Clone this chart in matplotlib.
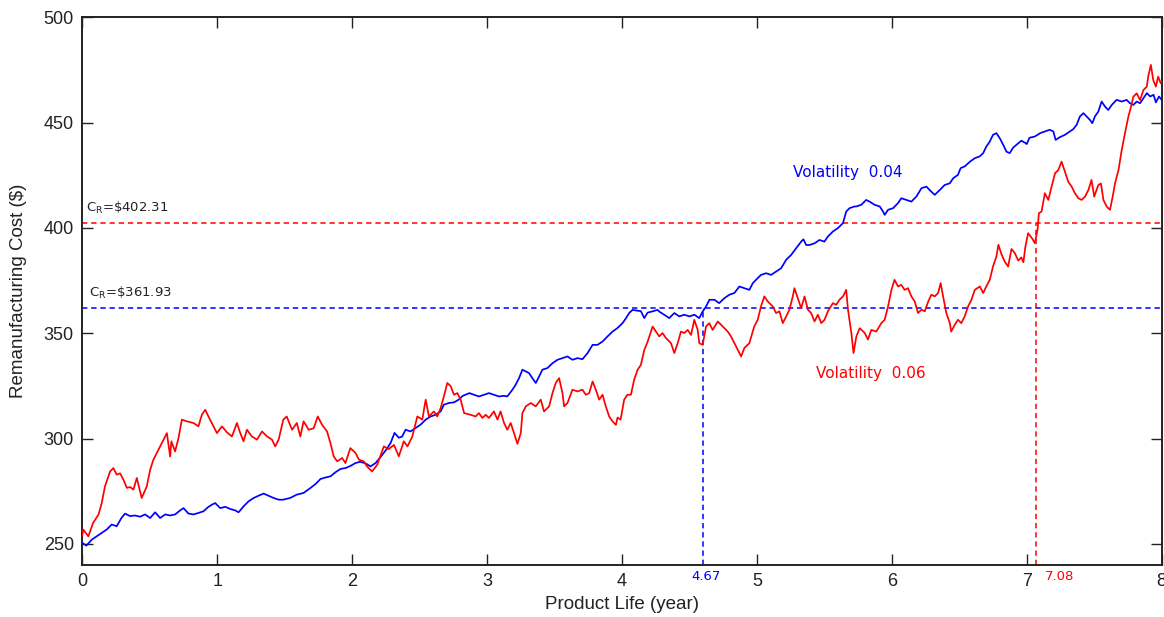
import matplotlib
matplotlib.use("Agg")
import matplotlib.pyplot as plt

# ---------------- data ----------------
red_x = [0.0, 0.007, 0.045, 0.08, 0.12, 0.144, 0.168, 0.206, 0.23, 0.255, 0.28, 0.305, 0.33, 0.354,
         0.379, 0.404, 0.428, 0.44, 0.478, 0.503, 0.527, 0.564, 0.589, 0.627, 0.651, 0.66, 0.688,
         0.713, 0.738, 0.775, 0.824, 0.861, 0.886, 0.911, 0.935, 0.96, 0.998, 1.035, 1.072, 1.109,
         1.146, 1.171, 1.195, 1.22, 1.257, 1.295, 1.332, 1.37, 1.406, 1.43, 1.455, 1.49, 1.515,
         1.555, 1.59, 1.616, 1.64, 1.678, 1.715, 1.745, 1.777, 1.814, 1.839, 1.863, 1.889, 1.926,
         1.95, 1.987, 2.025, 2.05, 2.086, 2.11, 2.148, 2.186, 2.235, 2.27, 2.31, 2.346, 2.383, 2.41,
         2.446, 2.483, 2.52, 2.545, 2.569, 2.606, 2.631, 2.656, 2.68, 2.705, 2.73, 2.755, 2.78,
         2.804, 2.83, 2.878, 2.915, 2.94, 2.965, 2.99, 3.014, 3.051, 3.077, 3.1, 3.126, 3.15, 3.175,
         3.2, 3.225, 3.25, 3.262, 3.287, 3.324, 3.361, 3.398, 3.422, 3.46, 3.485, 3.509, 3.534,
         3.559, 3.571, 3.596, 3.633, 3.67, 3.707, 3.732, 3.757, 3.782, 3.806, 3.831, 3.856, 3.88,
         3.905, 3.93, 3.955, 3.967, 3.99, 4.016, 4.04, 4.066, 4.09, 4.116, 4.14, 4.165, 4.19, 4.227,
         4.252, 4.276, 4.3, 4.326, 4.363, 4.388, 4.413, 4.437, 4.462, 4.487, 4.512, 4.536, 4.561,
         4.573, 4.598, 4.623, 4.647, 4.672, 4.71, 4.747, 4.784, 4.808, 4.833, 4.87, 4.883, 4.907,
         4.944, 4.98, 5.006, 5.03, 5.055, 5.08, 5.118, 5.142, 5.167, 5.192, 5.217, 5.241, 5.266,
         5.278, 5.303, 5.328, 5.353, 5.378, 5.402, 5.427, 5.452, 5.477, 5.501, 5.526, 5.563, 5.588,
         5.613, 5.638, 5.662, 5.675, 5.7, 5.716, 5.737, 5.762, 5.8, 5.823, 5.848, 5.885, 5.922,
         5.947, 5.972, 5.997, 6.02, 6.046, 6.07, 6.095, 6.12, 6.145, 6.17, 6.194, 6.22, 6.244, 6.27,
         6.293, 6.318, 6.343, 6.362, 6.38, 6.404, 6.43, 6.44, 6.466, 6.49, 6.515, 6.54, 6.565, 6.59,
         6.615, 6.652, 6.677, 6.7, 6.726, 6.75, 6.775, 6.79, 6.812, 6.837, 6.862, 6.887, 6.912,
         6.937, 6.96, 6.975, 6.99, 7.01, 7.04, 7.06, 7.08, 7.09, 7.11, 7.134, 7.16, 7.184, 7.21,
         7.234, 7.258, 7.283, 7.308, 7.333, 7.357, 7.382, 7.407, 7.432, 7.457, 7.48, 7.5, 7.53,
         7.55, 7.568, 7.593, 7.617, 7.637, 7.654, 7.68, 7.704, 7.728, 7.753, 7.773, 7.79, 7.815,
         7.84, 7.865, 7.89, 7.9, 7.92, 7.937, 7.957, 7.974, 7.993, 8.0]
red_y = [254, 256.8, 253.6, 260, 263.9, 269.4, 277.3, 284.4, 286, 282.9, 283.5, 280.5, 276.6, 277,
         275.8, 281.3, 275, 271.8, 277.3, 285.2, 290, 294.7, 297.9, 302.6, 291.5, 298.7, 293.9,
         300.3, 309, 308.2, 307.4, 305.8, 311.3, 313.7, 310.5, 307.4, 302.6, 305.8, 303, 301,
         307.4, 302.6, 298.7, 304.2, 301, 299.5, 303.4, 301, 299.5, 296.3, 299.5, 309, 310.5,
         304.2, 307.4, 301, 308.2, 304.2, 304.9, 310.5, 306.6, 303.4, 297.9, 291.6, 289.2, 290.8,
         288.4, 295.5, 293.2, 290, 289.2, 286.8, 284.4, 287.6, 296.3, 295, 297, 291.6, 298.7, 296.3,
         301, 310.5, 309, 318.5, 310.5, 312.9, 310.5, 314.5, 320, 326.4, 324.9, 320.8, 321.6,
         318.5, 312.1, 311.3, 310.5, 312.1, 309.8, 311.3, 309.8, 312.9, 309, 312.9, 307.4, 304.2, 307.4,
         302.6, 297.5, 302.6, 312.1, 315.3, 316.9, 315.3, 318.5, 312.9, 315.3, 321.6, 326.4, 328.7,
         321.6, 315.3, 316.9, 323.2, 322.4, 323.2, 320.8, 321.6, 327.1, 323.2, 318.5, 320.8, 315.3,
         310.5, 308.2, 306.5, 310, 309, 318.5, 320.8, 320.8, 327.9, 332.7, 335, 342, 346, 353.2,
         350.8, 348.5, 350.1, 347.7, 345.3, 340.6, 345.3, 350.8, 350.1, 351.6, 349.2, 356.4, 351.6,
         345.3, 344.5, 353.2, 354.8, 351.6, 355.6, 353.2, 350.8, 348.5, 345.3, 340.6, 339, 343,
         345.3, 353.2, 356.4, 362.7, 367.5, 365.1, 362.7, 359.6, 360.4, 354.8, 358, 361.2, 367.5,
         371.4, 366.7, 361.9, 367.5, 361.2, 359.6, 355.6, 358.8, 354.8, 356.4, 360.4, 364.3, 363.5,
         366, 367.5, 370.6, 361.2, 350.1, 340.6, 348.5, 352.4, 350.1, 347, 351.6, 350.8, 354.8,
         356.4, 362.7, 370.6, 375.4, 372.2, 373, 370.6, 371.4, 367.5, 365.1, 359.6, 361.2, 360.4, 365.1,
         368.3, 367.5, 369.1, 373.8, 367.5, 359.6, 354.8, 350.8, 354, 356.4, 354.8, 358, 362.7, 365.9,
         370.6, 372.2, 369.1, 372.2, 375.4, 381.7, 386.4, 392, 387.6, 384, 381.7, 390, 388,
         384.5, 386, 383.7, 391.2, 397.5, 395, 392.8, 399.1, 407, 407.8, 416.5, 413.3, 419.6, 426,
         427.5, 431.5, 426.7, 421.9, 419.6, 416.5, 414.1, 413.3, 414.9, 418, 422.8, 414.9, 420.3,
         421.1, 413.3, 410.1, 408.6, 414.9, 421.1, 427.5, 437, 445, 452.8, 457.6, 462.3, 463.9,
         460.7, 465.5, 467.1, 471.8, 477.4, 470.3, 467.1, 471.8, 468.7, 469.5]

blue_x = [0.0, 0.03, 0.07, 0.107, 0.144, 0.18, 0.218, 0.255, 0.29, 0.317, 0.354, 0.391, 0.428, 0.465,
          0.503, 0.54, 0.577, 0.614, 0.651, 0.688, 0.725, 0.75, 0.787, 0.824, 0.861, 0.898, 0.935,
          0.96, 0.985, 1.022, 1.06, 1.096, 1.134, 1.158, 1.195, 1.232, 1.27, 1.307, 1.344, 1.38,
          1.418, 1.455, 1.49, 1.54, 1.59, 1.64, 1.69, 1.73, 1.765, 1.8, 1.84, 1.876, 1.914, 1.95,
          1.987, 2.025, 2.06, 2.1, 2.136, 2.174, 2.21, 2.25, 2.285, 2.314, 2.346, 2.371, 2.396,
          2.433, 2.47, 2.507, 2.545, 2.582, 2.619, 2.656, 2.68, 2.717, 2.755, 2.79, 2.82, 2.84,
          2.87, 2.903, 2.94, 2.977, 3.014, 3.05, 3.088, 3.126, 3.15, 3.188, 3.212, 3.237, 3.262,
          3.287, 3.311, 3.336, 3.361, 3.386, 3.41, 3.448, 3.485, 3.522, 3.559, 3.596, 3.633, 3.67,
          3.707, 3.745, 3.782, 3.819, 3.856, 3.893, 3.93, 3.967, 4.004, 4.03, 4.053, 4.079, 4.116,
          4.14, 4.165, 4.19, 4.227, 4.264, 4.276, 4.313, 4.35, 4.388, 4.425, 4.462, 4.5, 4.536,
          4.573, 4.598, 4.623, 4.648, 4.685, 4.72, 4.76, 4.796, 4.833, 4.87, 4.907, 4.944, 4.97,
          4.994, 5.03, 5.068, 5.105, 5.142, 5.18, 5.217, 5.254, 5.291, 5.328, 5.345, 5.365, 5.39,
          5.427, 5.464, 5.5, 5.526, 5.563, 5.6, 5.638, 5.662, 5.687, 5.724, 5.737, 5.774, 5.81,
          5.835, 5.872, 5.91, 5.935, 5.947, 5.972, 6.01, 6.046, 6.07, 6.108, 6.145, 6.182, 6.22,
          6.257, 6.28, 6.318, 6.355, 6.392, 6.43, 6.455, 6.49, 6.51, 6.54, 6.58, 6.615, 6.652,
          6.677, 6.7, 6.726, 6.75, 6.775, 6.8, 6.826, 6.85, 6.874, 6.9, 6.937, 6.96, 6.986, 7.0,
          7.02, 7.06, 7.1, 7.134, 7.17, 7.197, 7.214, 7.246, 7.283, 7.32, 7.345, 7.37, 7.394, 7.42,
          7.444, 7.468, 7.486, 7.505, 7.53, 7.555, 7.58, 7.604, 7.63, 7.666, 7.704, 7.74, 7.765,
          7.79, 7.815, 7.84, 7.865, 7.89, 7.915, 7.94, 7.957, 7.98, 8.0]
blue_y = [250.5, 249.2, 252, 253.6, 255.2, 256.8, 259.2, 258.4, 262.3, 264.4, 263.2, 263.5, 262.9, 264,
          262.3, 265, 262.3, 264, 263.5, 264, 265.9, 267, 264.4, 264, 264.7, 265.5, 267.6,
          268.6, 269.4, 267, 267.6, 266.6, 265.9, 265, 267.8, 270.2, 271.8, 272.9, 273.9, 272.9,
          271.8, 271, 271, 271.8, 273.4, 274.2, 276.5, 278.5, 280.8, 281.5, 282.1, 284, 285.6, 286,
          287, 288.4, 289, 288.2, 286.8, 288.4, 291.2, 294.5, 297.9, 302.7, 300.4, 301, 304.2,
          303.4, 305, 306.6, 309, 310.5, 311.3, 312.9, 316.1, 316.9, 317.2, 318.5, 320.3, 320.8,
          321.6, 320.8, 320, 320.8, 321.6, 320.8, 320, 320.3, 320, 323.2, 325.6, 328.7, 332.7,
          331.9, 331.1, 328.7, 326.4, 329.5, 332.7, 333.5, 335.8, 337.4, 338.2, 339, 337.4, 338.2,
          337.7, 340.6, 344.5, 344.5, 346.1, 348.5, 350.8, 352.5, 354.8, 357.2, 359.6, 361.1, 360.7,
          360.5, 357.2, 359.8, 360.4, 361.1, 360.3, 358.8, 357.2, 359.6, 358, 358.8, 358, 358.8,
          357.2, 360.3, 362.7, 365.9, 365.9, 364.3, 366.7, 368.3, 369.1, 372.2, 371.4, 370.6, 373.8,
          375.4, 377.7, 378.5, 377.7, 379.3, 380.9, 384.9, 387.2, 390.4, 393.5, 394.6, 391.9, 391.9,
          392.7, 394.3, 393.5, 395.9, 398.3, 399.9, 402.3, 407.8, 409.4, 410.2, 410.2, 411, 413.3,
          412.5, 411, 410.2, 407.8, 406.2, 408.6, 409.4, 411.8, 414.1, 413.3, 412.5, 414.9, 418.9,
          419.6, 418, 415.7, 418, 420.4, 421.2, 423.6, 425.2, 428.4, 429.2, 431.5, 433.1, 434,
          435.5, 438.6, 441, 444.2, 445, 442.6, 439.4, 436.2, 435.5, 438.2, 440.2, 441.4, 440.5, 439.8,
          442.8, 443.4, 445, 445.8, 446.6, 445.8, 441.8, 443.1, 444.2, 445.8, 446.9, 449, 452.9, 454.5,
          452.9, 451.3, 449.7, 452.9, 455.2, 460, 457.6, 456, 458.4, 460.8, 460, 460.8, 459.2,
          458.4, 460, 459.2, 461.6, 464, 462.4, 463.2, 459.6, 462.4, 460.8]

cr_red = 402.31
cr_blue = 361.93
cross_blue_x = 4.60   # position of the blue dashed drop line as drawn
cross_red_x = 7.065   # position of the red dashed drop line as drawn
cross_blue_label = "4.67"
cross_red_label = "7.08"
x_ticks = [0, 1, 2, 3, 4, 5, 6, 7, 8]
y_ticks = [250, 300, 350, 400, 450, 500]

# ---------------- figure ----------------
fig = plt.figure(figsize=(11.64, 6.17), dpi=100)
ax = fig.add_axes([0.0707, 0.0843, 0.9273, 0.8877])

BLUE = "#0000ff"
RED = "#ff0000"

ax.plot(blue_x, blue_y, color=BLUE, lw=1.25, zorder=3)
ax.plot(red_x, red_y, color=RED, lw=1.25, zorder=4)

dash = (0, (3.5, 2.5))
ax.plot([0, 8], [cr_red, cr_red], color=RED, lw=1.1, ls=dash, zorder=2)
ax.plot([0, 8], [cr_blue, cr_blue], color=BLUE, lw=1.1, ls=dash, zorder=2)
ax.plot([cross_blue_x, cross_blue_x], [240, cr_blue], color=BLUE, lw=1.1, ls=dash, zorder=2)
ax.plot([cross_red_x, cross_red_x], [240, cr_red], color=RED, lw=1.1, ls=dash, zorder=2)

ax.set_xlim(0, 8)
ax.set_ylim(240, 500)
ax.set_xticks(x_ticks)
ax.set_yticks(y_ticks)
ax.set_xticklabels([str(t) for t in x_ticks])
ax.set_yticklabels([str(t) for t in y_ticks])

for lab in ax.get_xticklabels() + ax.get_yticklabels():
    lab.set_fontfamily("Liberation Sans")
    lab.set_fontsize(13)
    lab.set_color("#222222")

ax.tick_params(direction="in", length=8, width=1.0, top=True, right=True,
               pad=6, colors="#222222")
for s in ax.spines.values():
    s.set_linewidth(1.4)
    s.set_color("#222222")

ax.set_xlabel("Product Life (year)", fontfamily="Liberation Sans", fontsize=13.5,
              color="#222222", labelpad=4)
ax.set_ylabel("Remanufacturing Cost ($)", fontfamily="Liberation Sans", fontsize=13.5,
              color="#222222", labelpad=12)

small = dict(family="DejaVu Sans", size=9.5)
ax.text(0.03, cr_red + 3.5, r"C$_\mathregular{R}$=\$402.31", color="#222222",
        ha="left", va="bottom", **small)
ax.text(0.05, cr_blue + 3.5, r"C$_\mathregular{R}$=\$361.93", color="#222222",
        ha="left", va="bottom", **small)
vol = dict(family="DejaVu Sans", size=11)
ax.text(5.27, 426.5, "Volatility  0.04", color=BLUE, ha="left", va="center", **vol)
ax.text(5.44, 331, "Volatility  0.06", color=RED, ha="left", va="center", **vol)

ax.text(cross_blue_x + 0.02, 237.5, cross_blue_label, color=BLUE, ha="center", va="top",
        clip_on=False, **small)
ax.text(cross_red_x + 0.07, 237.5, cross_red_label, color=RED, ha="left", va="top",
        clip_on=False, **small)

fig.savefig("out.png", dpi=100, facecolor="white")
